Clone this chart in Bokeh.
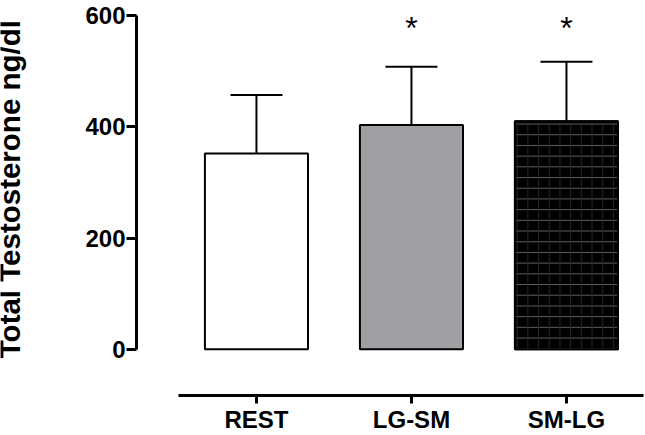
import math
from bokeh.plotting import figure
from bokeh.layouts import row
from bokeh.models import (Range1d, FixedTicker, Whisker, TeeHead, ColumnDataSource,
                          CDSView, IndexFilter)
from bokeh.core.properties import value
from bokeh.embed import file_html
from bokeh.resources import INLINE

# ---- data ----
categories = ["REST", "LG-SM", "SM-LG"]
means = [352, 403, 410]
sems = [105, 105, 107]
significance = ["", "*", "*"]
y_ticks = [0, 200, 400, 600]
bar_colors = ["#ffffff", "#a0a0a4", "#000000"]
y_title = "Total Testosterone ng/dl"

xpos = list(range(1, len(categories) + 1))
upper = [m + s for m, s in zip(means, sems)]
src = ColumnDataSource(dict(x=xpos, mean=means, upper=upper, color=bar_colors,
                            cat=categories, sig=significance))

FONT = "Liberation Sans"
H = 435
TITLE_W = 40

y_range = Range1d(-83, 600)

# ---- narrow strip holding the rotated y-axis title ----
t = figure(width=TITLE_W, height=H, output_backend="svg", toolbar_location=None,
           x_range=Range1d(0, TITLE_W), y_range=y_range,
           x_axis_type=None, y_axis_type=None, min_border=0)
t.outline_line_color = None
t.grid.visible = False
t.text(x=[9], y=[-16], text=[y_title], angle=math.pi / 2,
       text_font=value(FONT), text_font_style="bold", text_font_size="29.5px",
       text_color="black", text_align="left", text_baseline="alphabetic")

# ---- main chart ----
p = figure(width=645 - TITLE_W, height=H, output_backend="svg", toolbar_location=None,
           x_range=Range1d(0.226, 3.51), y_range=y_range,
           min_border_left=136 - TITLE_W, min_border_right=0, min_border_top=15,
           min_border_bottom=0)
p.outline_line_color = None
p.grid.visible = False
p.background_fill_color = "white"
p.border_fill_color = "white"

# bars
p.vbar(x="x", top="mean", bottom=0, width=0.665, source=src,
       fill_color="color", line_color="black", line_width=2)
hatched = CDSView(filter=IndexFilter([2]))
p.vbar(x="x", top="mean", bottom=0, width=0.665, source=src, view=hatched,
       fill_alpha=0, line_alpha=0, hatch_pattern="horizontal_line",
       hatch_color="#5e5e5e", hatch_scale=10.7, hatch_weight=1)
p.vbar(x="x", top="mean", bottom=0, width=0.665, source=src, view=hatched,
       fill_alpha=0, line_alpha=0, hatch_pattern="vertical_line",
       hatch_color="#262626", hatch_scale=10.7, hatch_weight=1)
p.vbar(x="x", top="mean", bottom=0, width=0.665, source=src, view=hatched,
       fill_alpha=0, line_color="black", line_width=2)

# error bars (upper only)
w = Whisker(source=src, base="x", lower="mean", upper="upper", dimension="height",
            line_width=2, line_color="black",
            upper_head=TeeHead(size=52, line_width=2, line_color="black"),
            lower_head=None)
p.add_layout(w)

# significance stars
p.text(x="x", y=577, text="sig", source=src, text_font=value(FONT),
       text_font_size="32px", text_align="center", text_baseline="middle",
       text_color="black")

# y axis
ya = p.yaxis[0]
ya.ticker = FixedTicker(ticks=y_ticks)
ya.bounds = (0, 600)
ya.axis_line_width = 3
ya.axis_line_color = "black"
ya.major_tick_line_width = 3
ya.major_tick_line_color = "black"
ya.major_tick_out = 10
ya.major_tick_in = 0
ya.minor_tick_line_color = None
ya.major_label_text_font = FONT
ya.major_label_text_font_style = "bold"
ya.major_label_text_font_size = "24px"
ya.major_label_text_color = "black"
ya.major_label_standoff = 1

# x axis
xa = p.xaxis[0]
xa.ticker = FixedTicker(ticks=xpos)
xa.major_label_overrides = {x: c for x, c in zip(xpos, categories)}
xa.bounds = (0.5, len(categories) + 0.5)
xa.axis_line_width = 3
xa.axis_line_color = "black"
xa.major_tick_line_width = 3
xa.major_tick_line_color = "black"
xa.major_tick_out = 8
xa.major_tick_in = 0
xa.minor_tick_line_color = None
xa.major_label_text_font = FONT
xa.major_label_text_font_style = "bold"
xa.major_label_text_font_size = "24px"
xa.major_label_text_color = "black"
xa.major_label_text_line_height = 1.0
xa.major_label_standoff = 2
xa.axis_label_standoff = 0

layout = row(t, p, spacing=0)
open("out.html", "w").write(file_html(layout, INLINE))
